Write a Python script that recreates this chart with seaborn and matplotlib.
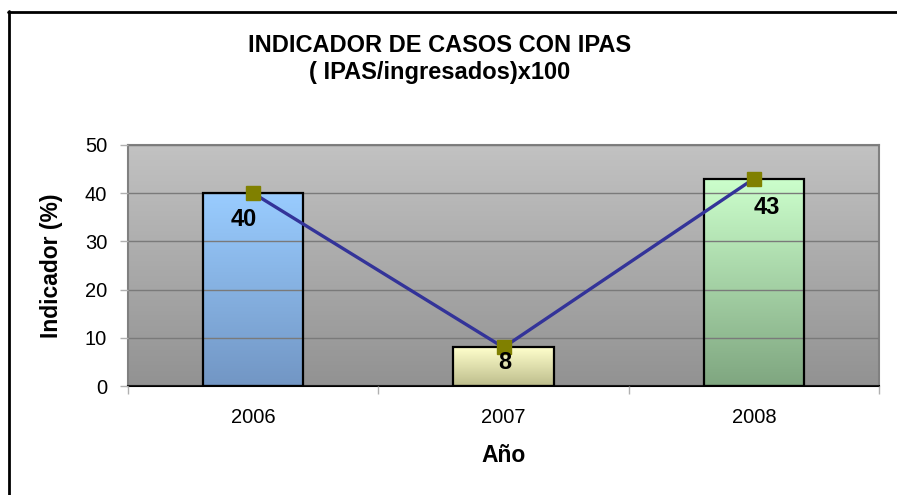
import numpy as np
import pandas as pd
import seaborn as sns
import matplotlib.pyplot as plt
from matplotlib.colors import LinearSegmentedColormap
from matplotlib.lines import Line2D

# data
years = ['2006', '2007', '2008']
indicador = [40, 8, 43]
yticks = [0, 10, 20, 30, 40, 50]

# bar gradients (top, bottom)
bar_grad = [('#99ccff', '#7296c4'), ('#ffffcc', '#bdbd8c'), ('#ccffcc', '#7fa680')]
# data label offsets in points (dx, dy)
label_off = [(-7, -19), (1, -11), (9, -21)]

sns.set_theme(style='white')
plt.rcParams['font.family'] = ['Liberation Sans', 'DejaVu Sans']
plt.rcParams['text.color'] = 'black'
plt.rcParams['axes.labelcolor'] = 'black'
plt.rcParams['xtick.labelcolor'] = 'black'
plt.rcParams['ytick.labelcolor'] = 'black'

df = pd.DataFrame({'Año': years, 'Indicador': indicador})

fig = plt.figure(figsize=(8.97, 4.95), dpi=100)
ax = fig.add_axes([128 / 897, 1 - 386 / 495, (879 - 128) / 897, (386 - 145) / 495])

sns.barplot(data=df, x='Año', y='Indicador', width=0.4, ax=ax,
            facecolor='none', edgecolor='black', linewidth=1.6, zorder=3)

ax.set_xlim(-0.5, 2.5)
ax.set_ylim(0, 50)

# plot area gradient
bg = LinearSegmentedColormap.from_list('bg', ['#929292', '#c2c2c2'])
ax.imshow(np.linspace(0, 1, 256).reshape(-1, 1), cmap=bg, origin='lower',
          extent=(-0.5, 2.5, 0, 50), aspect='auto', zorder=0)

# bar gradients clipped to bars
for patch, (top, bot) in zip(ax.patches, bar_grad):
    x0, y0 = patch.get_x(), patch.get_y()
    w, h = patch.get_width(), patch.get_height()
    cm = LinearSegmentedColormap.from_list('b', [bot, top])
    im = ax.imshow(np.linspace(0, 1, 256).reshape(-1, 1), cmap=cm, origin='lower',
                   extent=(x0, x0 + w, y0, y0 + h), aspect='auto', zorder=2)
    im.set_clip_path(patch)

ax.set_xlim(-0.5, 2.5)
ax.set_ylim(0, 50)

sns.pointplot(data=df, x='Año', y='Indicador', ax=ax, color='#333399',
              markers='s', linewidth=2.4, markersize=0, zorder=4)
ax.plot(range(len(years)), indicador, linestyle='none', marker='s',
        markersize=10, color='#808000', zorder=5)

for i, v in enumerate(indicador):
    ax.annotate(str(v), (i, v), xytext=label_off[i], textcoords='offset points',
                ha='center', va='center', fontsize=17, fontweight='bold',
                color='black', zorder=6)

ax.set_yticks(yticks)
ax.yaxis.grid(True, color='#7a7a7a', linewidth=1)
ax.set_axisbelow(False)
for gl in ax.get_ygridlines():
    gl.set_zorder(1)

ax.set_xticks([0, 1, 2])
ax.set_xticklabels(years)
ax.set_xticks([-0.5, 0.5, 1.5, 2.5], minor=True)
ax.tick_params(axis='x', which='major', length=0, labelsize=14.5, pad=16)
ax.tick_params(axis='x', which='minor', length=6, color='#b0b0b0', width=1, bottom=True)
ax.tick_params(axis='y', length=6, color='#b0b0b0', width=1, labelsize=14.5, left=True, pad=9)

for s in ['top', 'right', 'left']:
    ax.spines[s].set_visible(True)
    ax.spines[s].set_color('#808080')
    ax.spines[s].set_linewidth(1.5)
ax.spines['bottom'].set_color('black')
ax.spines['bottom'].set_linewidth(1.5)

ax.set_xlabel('Año', fontsize=16.5, fontweight='bold', labelpad=12)
ax.set_ylabel('Indicador (%)', fontsize=16.5, fontweight='bold', labelpad=16)

fig.text(440 / 897, 1 - 45 / 495, 'INDICADOR DE CASOS CON IPAS', ha='center', va='center',
         fontsize=17, fontweight='bold')
fig.text(440 / 897, 1 - 72 / 495, '( IPAS/ingresados)x100', ha='center', va='center',
         fontsize=17, fontweight='bold')

# outer chart frame
fig.add_artist(Line2D([8.5 / 897, 8.5 / 897], [0, 1 - 11 / 495], color='black', linewidth=2,
                      transform=fig.transFigure))
fig.add_artist(Line2D([8 / 897, 1], [1 - 11.5 / 495, 1 - 11.5 / 495], color='black', linewidth=2,
                      transform=fig.transFigure))

fig.savefig('out.png', dpi=100)
